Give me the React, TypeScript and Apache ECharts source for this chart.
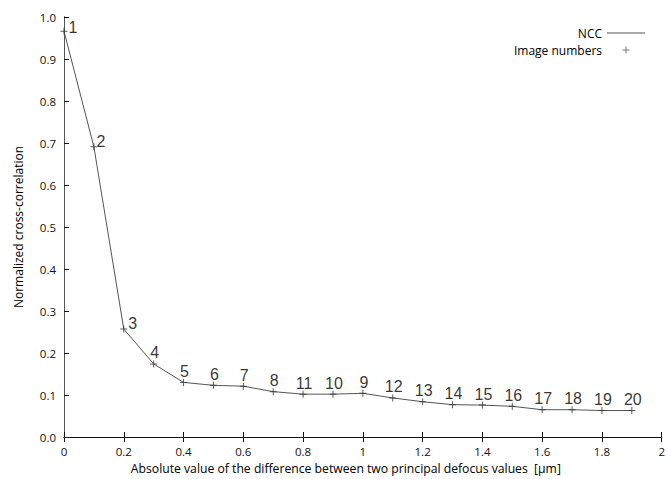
import React, { useEffect, useRef } from "react";
import * as echarts from "echarts";

const xValues = [0, 0.1, 0.2, 0.3, 0.4, 0.5, 0.6, 0.7, 0.8, 0.9, 1.0, 1.1, 1.2, 1.3, 1.4, 1.5, 1.6, 1.7, 1.8, 1.9];
const nccValues = [0.966, 0.691, 0.257, 0.174, 0.13, 0.123, 0.121, 0.108, 0.102, 0.102, 0.104, 0.093, 0.084, 0.077, 0.076, 0.073, 0.065, 0.065, 0.063, 0.063];
const imageNumbers = [1, 2, 3, 4, 5, 6, 7, 8, 11, 10, 9, 12, 13, 14, 15, 16, 17, 18, 19, 20];

const xName = "Absolute value of the difference between two principal defocus values  [\u03bcm]";
const yName = "Normalized cross-correlation";
const seriesNames = ["NCC", "Image numbers"];

const PLUS = "path://M3,0h1v7h-1zM0,3h7v1h-7z";
const PLUS_LEGEND = "path://M0,3.5L0.01,3.5ZM18.5,0h1v7h-1zM15.5,3h7v1h-7zM38,3.5L38.01,3.5Z";
const LINE_LEGEND = "path://M0,0L0.01,0ZM0,3.1h38v0.8h-38zM0,7L0.01,7Z";

const FONT = "'Liberation Sans', Arial, sans-serif";
const AXIS_FONT = "'Open Sans', 'Noto Sans', sans-serif";

export default function App() {
  const ref = useRef<HTMLDivElement>(null);
  useEffect(() => {
    document.body.style.margin = "0";
    if (!ref.current) return;
    const chart = echarts.init(ref.current, null, { renderer: "svg" });
    const points = xValues.map((x, i) => [x, nccValues[i]]);
    const scatterData = points.map((p, i) => {
      let offset = [1, -11];
      if (i === 0) offset = [9, -4];
      else if (i === 1) offset = [7, -5];
      else if (i === 2) offset = [9, -6];
      return { value: p, label: { offset } };
    });
    chart.setOption({
      animation: false,
      backgroundColor: "#ffffff",
      textStyle: { fontFamily: AXIS_FONT },
      grid: { left: 64, right: 3, top: 17, bottom: 40, containLabel: false },
      legend: {
        orient: "vertical",
        right: 18,
        top: 22,
        align: "right",
        itemWidth: 38,
        itemHeight: 7,
        itemGap: 5,
        textStyle: { fontSize: 12, color: "#000", fontFamily: AXIS_FONT },
        data: [
          { name: seriesNames[0], icon: LINE_LEGEND, itemStyle: { color: "#555" } },
          { name: seriesNames[1], icon: PLUS_LEGEND, itemStyle: { color: "#555" } },
        ],
      },
      xAxis: [
        {
          type: "value",
          min: 0,
          max: 2,
          interval: 0.2,
          position: "bottom",
          name: xName,
          nameLocation: "middle",
          nameGap: 25,
          nameTextStyle: { fontSize: 12.2, color: "#000", fontFamily: AXIS_FONT, padding: [0, 34, 0, 0] },
          axisLine: { show: true, lineStyle: { color: "#111", width: 1 } },
          axisTick: { show: true, inside: true, length: 5, lineStyle: { color: "#111" } },
          axisLabel: { fontSize: 11.5, color: "#111", margin: 8, fontFamily: AXIS_FONT },
          splitLine: { show: false },
        },
        {
          type: "value",
          min: 0,
          max: 2,
          interval: 0.2,
          position: "top",
          axisLine: { show: true, lineStyle: { color: "#111", width: 1 } },
          axisTick: { show: true, inside: true, length: 5, lineStyle: { color: "#111" } },
          axisLabel: { show: false },
          splitLine: { show: false },
        },
      ],
      yAxis: [
        {
          type: "value",
          min: 0,
          max: 1,
          interval: 0.1,
          position: "left",
          name: yName,
          nameLocation: "middle",
          nameGap: 40,
          nameTextStyle: { fontSize: 12, color: "#000", fontFamily: AXIS_FONT },
          axisLine: { show: true, lineStyle: { color: "#111", width: 1 } },
          axisTick: { show: true, inside: true, length: 5, lineStyle: { color: "#111" } },
          axisLabel: { fontSize: 11.5, color: "#111", margin: 8, fontFamily: AXIS_FONT, formatter: (v: number) => v.toFixed(1) },
          splitLine: { show: false },
        },
        {
          type: "value",
          min: 0,
          max: 1,
          position: "right",
          axisLine: { show: true, lineStyle: { color: "#555", width: 1 } },
          axisTick: { show: false },
          axisLabel: { show: false },
          splitLine: { show: false },
        },
      ],
      series: [
        {
          name: seriesNames[0],
          type: "line",
          data: points,
          symbol: "none",
          lineStyle: { color: "#555", width: 1 },
          itemStyle: { color: "#555" },
          z: 2,
        },
        {
          name: seriesNames[1],
          type: "scatter",
          data: scatterData,
          symbol: PLUS,
          symbolSize: 7,
          itemStyle: { color: "#333" },
          label: {
            show: true,
            position: "inside",
            fontSize: 16,
            color: "#000",
            textBorderWidth: 0,
            textBorderColor: "transparent",
            fontFamily: FONT,
            formatter: (p: any) => String(imageNumbers[p.dataIndex]),
          },
          z: 3,
        },
      ],
    });
    return () => chart.dispose();
  }, []);
  return <div ref={ref} style={{ width: 668, height: 479 }} />;
}
